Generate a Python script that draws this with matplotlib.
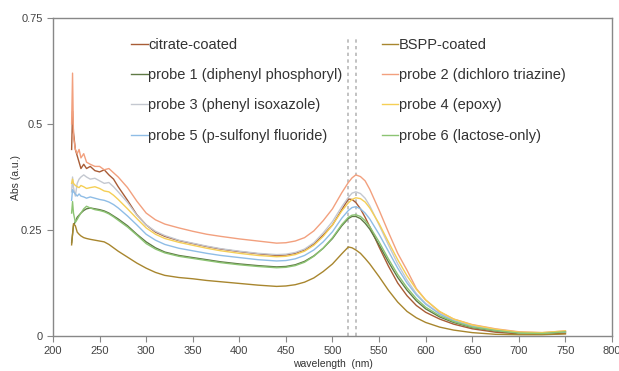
import matplotlib
matplotlib.use('Agg')
import matplotlib.pyplot as plt

plt.rcParams['font.family'] = ['Liberation Sans', 'DejaVu Sans']

# wavelength grid (nm)
wl = [220, 221, 222, 224, 226, 228, 230, 233, 236, 240,
      245, 250, 255, 260, 265, 270, 280, 290, 300, 310,
      320, 335, 350, 365, 380, 400, 420, 440, 450, 460,
      470, 480, 490, 500, 510, 517, 521, 525, 530, 535,
      540, 550, 560, 570, 580, 590, 600, 615, 630, 650,
      675, 700, 725, 750]

citrate = [0.44, 0.53, 0.48, 0.44, 0.425, 0.41, 0.395, 0.405, 0.395, 0.40,
           0.39, 0.387, 0.392, 0.38, 0.37, 0.352, 0.32, 0.286, 0.262, 0.245,
           0.235, 0.225, 0.218, 0.211, 0.205, 0.199, 0.194, 0.19, 0.191, 0.195,
           0.203, 0.217, 0.238, 0.262, 0.298, 0.323, 0.322, 0.315, 0.30, 0.28,
           0.258, 0.21, 0.165, 0.125, 0.095, 0.072, 0.056, 0.04, 0.028, 0.017,
           0.009, 0.005, 0.004, 0.006]
bspp = [0.215, 0.24, 0.265, 0.26, 0.245, 0.24, 0.236, 0.232, 0.23, 0.228,
        0.226, 0.224, 0.222, 0.216, 0.208, 0.20, 0.186, 0.172, 0.16, 0.15,
        0.143, 0.138, 0.135, 0.131, 0.128, 0.124, 0.12, 0.117, 0.118, 0.121,
        0.127, 0.137, 0.152, 0.17, 0.194, 0.21, 0.208, 0.203, 0.195, 0.183,
        0.17, 0.14, 0.108, 0.08, 0.058, 0.043, 0.032, 0.021, 0.014, 0.008,
        0.004, 0.003, 0.003, 0.005]
probe1 = [0.22, 0.24, 0.26, 0.27, 0.28, 0.285, 0.29, 0.296, 0.30, 0.302,
          0.30, 0.298, 0.295, 0.29, 0.283, 0.276, 0.26, 0.24, 0.222, 0.208,
          0.198, 0.19, 0.185, 0.18, 0.175, 0.17, 0.166, 0.163, 0.164, 0.168,
          0.176, 0.189, 0.207, 0.23, 0.26, 0.277, 0.282, 0.282, 0.277, 0.266,
          0.252, 0.215, 0.175, 0.138, 0.108, 0.083, 0.064, 0.045, 0.032, 0.02,
          0.012, 0.007, 0.006, 0.009]
probe2 = [0.50, 0.62, 0.47, 0.44, 0.43, 0.44, 0.42, 0.43, 0.41, 0.405,
          0.40, 0.40, 0.392, 0.395, 0.385, 0.375, 0.35, 0.318, 0.29, 0.274,
          0.264, 0.255, 0.247, 0.24, 0.235, 0.229, 0.224, 0.219, 0.22, 0.224,
          0.232, 0.248, 0.272, 0.30, 0.338, 0.362, 0.373, 0.38, 0.376, 0.366,
          0.346, 0.297, 0.245, 0.195, 0.155, 0.112, 0.085, 0.057, 0.04, 0.027,
          0.017, 0.01, 0.008, 0.012]
probe3 = [0.34, 0.375, 0.35, 0.33, 0.36, 0.37, 0.375, 0.38, 0.375, 0.37,
          0.372, 0.366, 0.36, 0.362, 0.352, 0.34, 0.315, 0.285, 0.262, 0.247,
          0.237, 0.226, 0.219, 0.212, 0.206, 0.20, 0.195, 0.192, 0.193, 0.197,
          0.205, 0.22, 0.243, 0.27, 0.305, 0.327, 0.337, 0.34, 0.336, 0.325,
          0.307, 0.262, 0.215, 0.17, 0.132, 0.10, 0.077, 0.053, 0.036, 0.024,
          0.014, 0.008, 0.007, 0.01]
probe4 = [0.36, 0.37, 0.36, 0.355, 0.352, 0.35, 0.355, 0.352, 0.348, 0.35,
          0.352, 0.348, 0.342, 0.34, 0.332, 0.322, 0.30, 0.277, 0.255, 0.24,
          0.23, 0.221, 0.214, 0.207, 0.201, 0.195, 0.19, 0.187, 0.188, 0.192,
          0.20, 0.214, 0.235, 0.262, 0.295, 0.314, 0.322, 0.326, 0.324, 0.316,
          0.302, 0.265, 0.222, 0.18, 0.142, 0.11, 0.085, 0.058, 0.04, 0.026,
          0.016, 0.009, 0.008, 0.012]
probe5 = [0.32, 0.345, 0.34, 0.335, 0.33, 0.335, 0.33, 0.328, 0.325, 0.328,
          0.325, 0.322, 0.32, 0.316, 0.31, 0.302, 0.283, 0.262, 0.24, 0.226,
          0.216, 0.207, 0.201, 0.195, 0.19, 0.185, 0.18, 0.177, 0.178, 0.182,
          0.19, 0.203, 0.222, 0.246, 0.278, 0.296, 0.303, 0.305, 0.30, 0.29,
          0.276, 0.24, 0.20, 0.16, 0.125, 0.097, 0.075, 0.052, 0.036, 0.023,
          0.014, 0.008, 0.007, 0.01]
probe6 = [0.29, 0.317, 0.29, 0.268, 0.275, 0.283, 0.29, 0.30, 0.306, 0.302,
          0.298, 0.296, 0.293, 0.288, 0.281, 0.273, 0.257, 0.238, 0.218, 0.205,
          0.196, 0.188, 0.183, 0.178, 0.173, 0.168, 0.164, 0.161, 0.162, 0.166,
          0.174, 0.188, 0.207, 0.232, 0.263, 0.28, 0.285, 0.286, 0.282, 0.272,
          0.258, 0.222, 0.182, 0.145, 0.114, 0.088, 0.068, 0.048, 0.034, 0.021,
          0.013, 0.007, 0.006, 0.01]

peak_lines = [517, 525]

series = [
    ('citrate-coated', citrate, '#a85c36'),
    ('probe 1 (diphenyl phosphoryl)', probe1, '#5f7a45'),
    ('probe 3 (phenyl isoxazole)', probe3, '#c4c8d0'),
    ('probe 5 (p-sulfonyl fluoride)', probe5, '#8fbde6'),
    ('BSPP-coated', bspp, '#a8862e'),
    ('probe 2 (dichloro triazine)', probe2, '#f2a07e'),
    ('probe 4 (epoxy)', probe4, '#f5cf55'),
    ('probe 6 (lactose-only)', probe6, '#8cc473'),
]

fig = plt.figure(figsize=(6.19, 3.71), dpi=100)
ax = fig.add_axes([0.0856, 0.0943, 0.9031, 0.8572])

for x in peak_lines:
    ax.plot([x, x], [0, 0.70], color='#b8b8b8', lw=1.2, ls=(0, (2, 2)), zorder=1)

for label, vals, col in series:
    ax.plot(wl, vals, color=col, lw=1.0, label=label, zorder=2)

ax.set_xlim(200, 800)
ax.set_ylim(0, 0.75)
ax.set_xticks(range(200, 801, 50))
ax.set_yticks([0, 0.25, 0.5, 0.75])
ax.set_yticklabels(['0', '0.25', '0.5', '0.75'])
ax.tick_params(labelsize=8, color='#888888', length=4, labelcolor='#444444')
for s in ax.spines.values():
    s.set_color('#888888')
    s.set_linewidth(1.0)

ax.set_xlabel('wavelength  (nm)', fontsize=7.5, labelpad=2, color='#333333')
ax.set_ylabel('Abs (a.u.)', fontsize=7.5, labelpad=0, color='#333333')

leg = ax.legend(ncol=2, frameon=False, fontsize=10.5, loc='upper left',
                bbox_to_anchor=(0.13, 0.956), handlelength=1.1, handletextpad=0.05,
                labelspacing=1.12, columnspacing=2.7, borderaxespad=0)
for t in leg.get_texts():
    t.set_color('#333333')

plt.savefig('out.png', dpi=100)
